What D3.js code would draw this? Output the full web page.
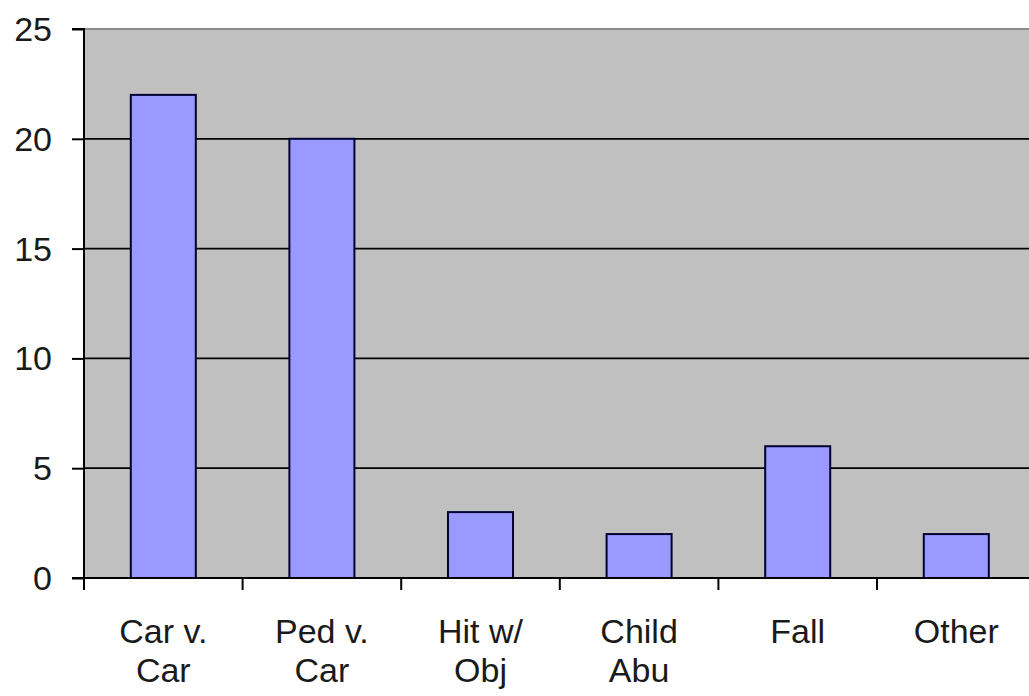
<!DOCTYPE html>
<html>
<head>
<meta charset="utf-8">
<script src="https://cdn.jsdelivr.net/npm/d3@7"></script>
<style>
html,body{margin:0;padding:0;background:#fff;overflow:hidden;}
svg{display:block;}
text{font-family:"Liberation Sans",Arial,sans-serif;fill:#1a1a1a;}
</style>
</head>
<body>
<svg id="chart" width="1029" height="696"></svg>
<script>
const categories = [["Car v.","Car"],["Ped v.","Car"],["Hit w/","Obj"],["Child","Abu"],["Fall"],["Other"]];
const values = [22, 20, 3, 2, 6, 2];
const yTicks = [0, 5, 10, 15, 20, 25];

const svg = d3.select("#chart");
const mLeft = 84, mRight = 1035.6, mTop = 29, mBottom = 578;

const x = d3.scaleBand().domain(d3.range(categories.length)).range([mLeft, mRight]).paddingInner(0.59).paddingOuter(0.295);
const step = x.step();
const y = d3.scaleLinear().domain([0, 25]).range([mBottom, mTop]);

// plot background
svg.append("rect").attr("x", mLeft).attr("y", mTop).attr("width", mRight - mLeft).attr("height", mBottom - mTop).attr("fill", "#c0c0c0");

// top border
svg.append("line").attr("x1", mLeft).attr("x2", mRight).attr("y1", y(25)).attr("y2", y(25)).attr("stroke", "#8c8c8c").attr("stroke-width", 2);

// gridlines
svg.append("g").selectAll("line").data(yTicks.filter(d => d > 0 && d < 25)).join("line")
  .attr("x1", mLeft).attr("x2", mRight).attr("y1", d => y(d)).attr("y2", d => y(d))
  .attr("stroke", "#000").attr("stroke-width", 1.8);

// bars
svg.append("g").selectAll("rect").data(values).join("rect")
  .attr("x", (d, i) => x(i)).attr("width", x.bandwidth())
  .attr("y", d => y(d)).attr("height", d => y(0) - y(d))
  .attr("fill", "#9999ff").attr("stroke", "#000033").attr("stroke-width", 2);

// y axis
const yAxis = d3.axisLeft(y).tickValues(yTicks).tickSize(12).tickPadding(20).tickFormat(d3.format("d"));
const gy = svg.append("g").attr("transform", `translate(${mLeft},0)`).call(yAxis);
gy.select(".domain").attr("stroke", "#000").attr("stroke-width", 2).attr("d", `M-12,${y(25)}H0V${y(0)}`);
gy.selectAll(".tick line").attr("stroke", "#000").attr("stroke-width", 2);
gy.selectAll(".tick text").attr("font-size", 34).attr("font-family", "Liberation Sans, Arial, sans-serif").attr("fill", "#1a1a1a").attr("dy", "0.34em");

// x axis line
svg.append("line").attr("x1", mLeft - 12).attr("x2", mRight).attr("y1", y(0)).attr("y2", y(0)).attr("stroke", "#000").attr("stroke-width", 2);
// x boundary ticks
svg.append("g").selectAll("line").data(d3.range(categories.length + 1)).join("line")
  .attr("x1", i => mLeft + i * step).attr("x2", i => mLeft + i * step)
  .attr("y1", y(0)).attr("y2", y(0) + 12)
  .attr("stroke", "#000").attr("stroke-width", 2);

// x labels
const lbl = svg.append("g").selectAll("text").data(categories).join("text")
  .attr("text-anchor", "middle").attr("font-size", 34)
  .attr("x", (d, i) => x(i) + x.bandwidth() / 2).attr("y", 643);
lbl.selectAll("tspan").data(d => d).join("tspan")
  .attr("x", function() { return d3.select(this.parentNode).attr("x"); })
  .attr("dy", (d, i) => i === 0 ? 0 : 39)
  .text(d => d);
</script>
</body>
</html>
